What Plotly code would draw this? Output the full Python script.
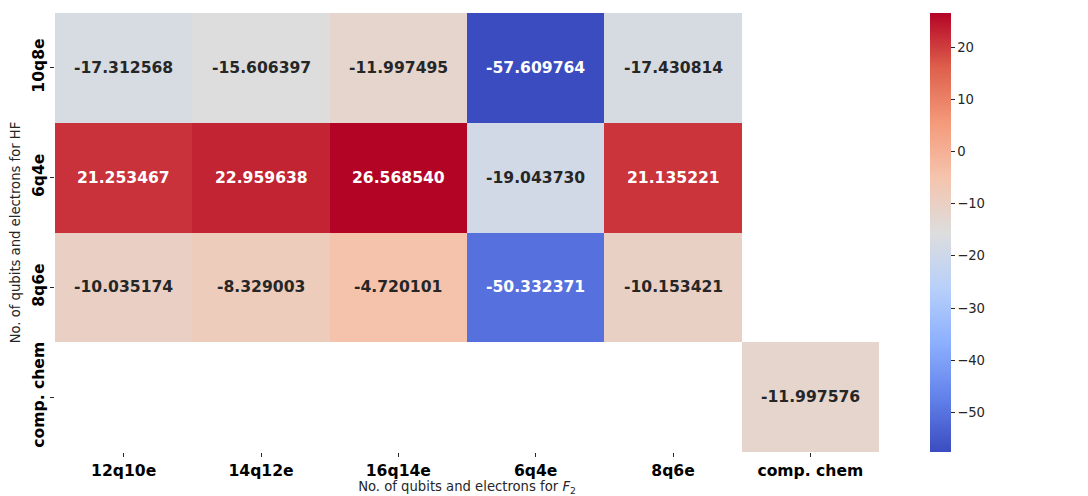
import numpy as np
import plotly.graph_objects as go

# Energy differences per HF / F2 qubit-electron configuration
col_labels = ["12q10e", "14q12e", "16q14e", "6q4e", "8q6e", "comp. chem"]
row_labels = ["10q8e", "6q4e", "8q6e", "comp. chem"]
row_10q8e = [-17.312568, -15.606397, -11.997495, -57.609764, -17.430814, None]
row_6q4e = [21.253467, 22.959638, 26.568540, -19.043730, 21.135221, None]
row_8q6e = [-10.035174, -8.329003, -4.720101, -50.332371, -10.153421, None]
row_comp = [None, None, None, None, None, -11.997576]
cbar_ticks = [-50, -40, -30, -20, -10, 0, 10, 20]

z = np.array([row_10q8e, row_6q4e, row_8q6e, row_comp], dtype=float)
zmin = np.nanmin(z)
zmax = np.nanmax(z)

# matplotlib-style "coolwarm" diverging scale
coolwarm = [
    [0.000, "rgb(59,76,192)"],
    [0.125, "rgb(98,130,234)"],
    [0.250, "rgb(141,176,254)"],
    [0.375, "rgb(184,208,249)"],
    [0.500, "rgb(221,221,221)"],
    [0.625, "rgb(245,196,173)"],
    [0.750, "rgb(244,154,123)"],
    [0.875, "rgb(222,96,77)"],
    [1.000, "rgb(180,4,38)"],
]


def scale_color(v):
    t = (v - zmin) / (zmax - zmin)
    for (a, ca), (b, cb) in zip(coolwarm[:-1], coolwarm[1:]):
        if a <= t <= b:
            f = (t - a) / (b - a) if b > a else 0
            c1 = [int(x) for x in ca[4:-1].split(",")]
            c2 = [int(x) for x in cb[4:-1].split(",")]
            return [c1[i] + f * (c2[i] - c1[i]) for i in range(3)]
    return [221, 221, 221]


def luminance(rgb):
    vals = []
    for c in rgb:
        c = c / 255
        vals.append(c / 12.92 if c <= 0.03928 else ((c + 0.055) / 1.055) ** 2.4)
    return 0.2126 * vals[0] + 0.7152 * vals[1] + 0.0722 * vals[2]


fig = go.Figure(
    go.Heatmap(
        z=z,
        x=col_labels,
        y=row_labels,
        colorscale=coolwarm,
        zmin=zmin,
        zmax=zmax,
        xgap=0,
        ygap=0,
        hoverongaps=False,
        colorbar=dict(
            xref="container",
            x=930 / 1088,
            xanchor="left",
            xpad=0,
            ypad=0,
            len=1,
            y=0.5,
            yanchor="middle",
            thickness=21,
            outlinewidth=0,
            tickvals=cbar_ticks,
            ticks="outside",
            ticklen=4,
            tickcolor="#262626",
            tickfont=dict(family="DejaVu Sans", size=13.2, color="#262626"),
        ),
    )
)

annotations = []
for i, r in enumerate(row_labels):
    for j, c in enumerate(col_labels):
        v = z[i, j]
        if np.isnan(v):
            continue
        color = "#262626" if luminance(scale_color(v)) > 0.408 else "#ffffff"
        annotations.append(
            dict(
                x=c,
                y=r,
                text=f"{v:.6f}",
                showarrow=False,
                font=dict(family="DejaVu Sans", size=15.6, color=color, weight="bold"),
            )
        )

fig.update_layout(
    width=1088,
    height=496,
    margin=dict(l=55, r=209, t=13, b=44),
    plot_bgcolor="white",
    paper_bgcolor="white",
    annotations=annotations,
    font=dict(family="DejaVu Sans", color="#262626"),
)
fig.update_xaxes(
    showgrid=False,
    zeroline=False,
    automargin=False,
    ticks="outside",
    ticklen=4,
    tickcolor="#262626",
    tickfont=dict(family="DejaVu Sans", size=15.6, color="#000000", weight="bold"),
    title=dict(
        text="No. of qubits and electrons for <i>F</i><sub>2</sub>",
        font=dict(family="DejaVu Sans", size=13.2, color="#262626"),
        standoff=2,
    ),
)
fig.update_yaxes(
    showgrid=False,
    zeroline=False,
    automargin=False,
    autorange="reversed",
    ticks="outside",
    ticklen=4,
    tickcolor="#262626",
    tickangle=-90,
    tickfont=dict(family="DejaVu Sans", size=15.6, color="#000000", weight="bold"),
    title=dict(
        text="No. of qubits and electrons for HF",
        font=dict(family="DejaVu Sans", size=13.2, color="#262626"),
        standoff=6,
    ),
)

fig.write_html("out.html")
